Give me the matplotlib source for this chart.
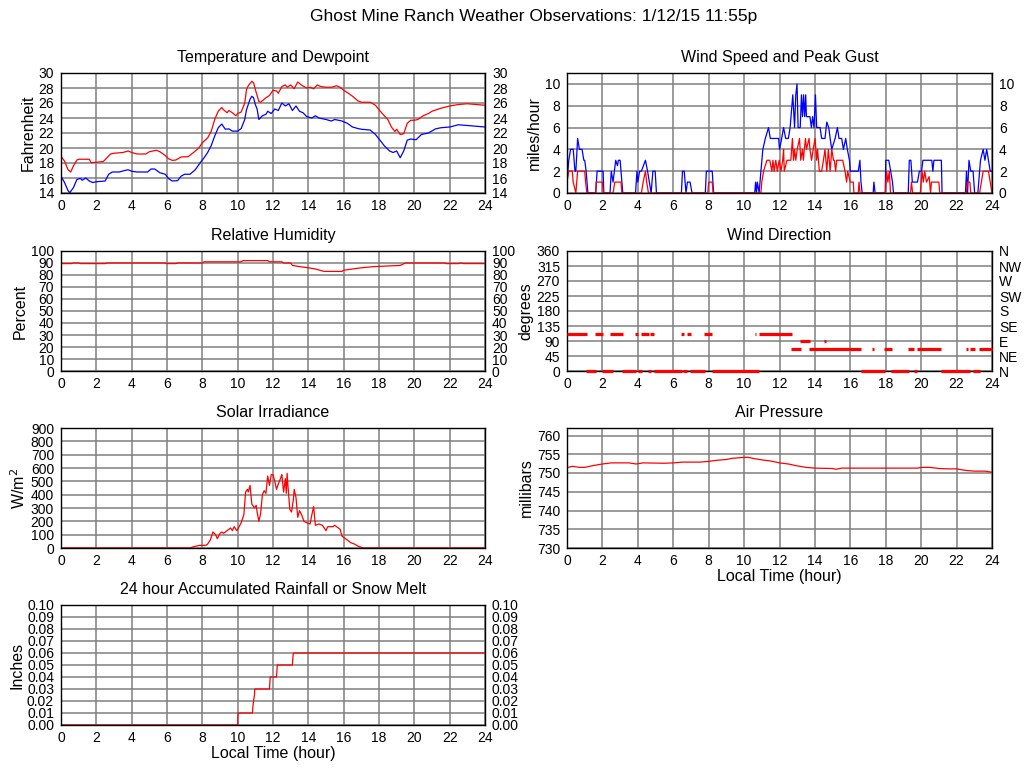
import matplotlib
matplotlib.use("Agg")
import matplotlib.pyplot as plt

plt.rcParams['font.family'] = ['Liberation Sans', 'DejaVu Sans']

# ---------------- data ----------------
temp_t = [0, 0.2, 0.4, 0.55, 0.7, 0.9, 1.0, 1.6, 1.7, 2.0, 2.4, 2.6, 2.8, 3.0, 3.5, 3.8, 4.0, 4.3, 4.8,
          5.0, 5.4, 5.6, 5.9, 6.1, 6.3, 6.5, 6.8, 7.2, 7.5, 7.8, 8.0, 8.3, 8.5, 8.7, 8.9, 9.1, 9.2, 9.4,
          9.5, 9.7, 9.9, 10.0, 10.2, 10.4, 10.5, 10.6, 10.8, 10.9, 11.0, 11.2, 11.3, 11.6, 11.8, 12.0,
          12.2, 12.3, 12.5, 12.7, 12.8, 13.0, 13.2, 13.4, 13.6, 13.9, 14.1, 14.3, 14.5, 14.7, 15.0, 15.3,
          15.6, 15.8, 16.0, 16.2, 16.5, 16.8, 17.0, 17.5, 17.8, 18.0, 18.3, 18.5, 18.7, 18.9, 19.0, 19.2,
          19.4, 19.6, 19.8, 20.0, 20.2, 20.5, 20.8, 21.0, 21.5, 22.0, 22.5, 23.0, 23.5, 24.0]
temp_f = [18.9, 18.25, 17.1, 16.8, 17.6, 18.4, 18.5, 18.5, 18.05, 18.1, 18.2, 18.7, 19.2, 19.3, 19.4,
          19.6, 19.4, 19.2, 19.2, 19.5, 19.7, 19.5, 19.0, 18.55, 18.35, 18.4, 18.8, 18.85, 19.4, 20.0,
          20.7, 21.35, 22.2, 23.8, 24.9, 25.4, 25.1, 24.7, 25.0, 24.7, 24.3, 24.6, 24.8, 26.0, 27.8, 28.3,
          28.9, 28.7, 27.8, 26.2, 26.1, 26.7, 27.0, 27.7, 27.6, 27.3, 28.2, 28.4, 28.1, 28.4, 27.9, 28.8,
          28.4, 28.0, 28.1, 27.9, 28.4, 28.2, 28.1, 28.1, 28.3, 28.1, 27.7, 27.4, 26.9, 26.3, 26.1, 26.1,
          25.7, 25.1, 24.3, 23.8, 22.8, 22.2, 22.5, 21.8, 21.9, 23.3, 23.7, 23.7, 23.8, 24.3, 24.6, 24.9,
          25.3, 25.6, 25.8, 25.9, 25.8, 25.7]

dew_t = [0, 0.2, 0.4, 0.5, 0.7, 0.9, 1.1, 1.2, 1.4, 1.6, 1.8, 2.0, 2.5, 2.7, 2.9, 3.3, 3.6, 3.8, 4.0,
         4.3, 4.9, 5.1, 5.3, 5.6, 5.9, 6.1, 6.3, 6.6, 6.8, 7.0, 7.3, 7.6, 7.9, 8.1, 8.3, 8.5, 8.7, 8.9,
         9.1, 9.3, 9.5, 9.7, 10.0, 10.2, 10.4, 10.5, 10.7, 10.8, 10.9, 11.0, 11.1, 11.2, 11.4, 11.6,
         11.7, 11.9, 12.1, 12.3, 12.5, 12.7, 12.9, 13.1, 13.3, 13.5, 13.7, 13.9, 14.2, 14.4, 14.6, 15.0,
         15.3, 15.5, 15.9, 16.2, 16.5, 16.8, 17.0, 17.5, 17.8, 18.0, 18.3, 18.6, 18.8, 19.0, 19.2, 19.4,
         19.6, 19.8, 20.1, 20.4, 20.8, 21.2, 21.5, 22.0, 22.5, 23.0, 23.5, 24.0]
dew_f = [16.25, 15.4, 14.3, 14.05, 14.7, 15.8, 15.95, 15.7, 16.0, 15.6, 15.4, 15.5, 15.6, 16.5, 16.8,
         16.8, 17.0, 17.1, 16.9, 16.8, 16.8, 17.2, 17.2, 16.7, 16.5, 15.9, 15.6, 15.65, 16.25, 16.5,
         16.5, 17.1, 18.1, 18.7, 19.4, 20.3, 21.6, 22.7, 23.2, 22.5, 22.55, 22.25, 22.25, 22.6, 23.8,
         25.1, 26.5, 26.9, 26.7, 25.8, 25.2, 23.8, 24.3, 24.5, 24.9, 24.6, 25.2, 25.0, 26.0, 25.6, 25.9,
         25.0, 25.6, 24.9, 24.7, 24.2, 24.0, 24.3, 24.0, 23.8, 23.6, 23.8, 23.6, 23.3, 22.8, 22.6, 22.5,
         22.4, 21.8, 21.2, 20.3, 19.6, 19.4, 19.6, 18.7, 19.6, 21.05, 21.2, 21.1, 21.8, 22.0, 22.55,
         22.7, 22.8, 23.1, 23.0, 22.9, 22.8]

# (hour, mph) samples
gust_pts = [(0.0, 1), (0.1, 3), (0.2, 4), (0.35, 4), (0.4, 3), (0.45, 2), (0.5, 2), (0.6, 5), (0.7, 4),
            (0.85, 4), (0.95, 3), (1.0, 3), (1.08, 2), (1.18, 0), (1.62, 0), (1.7, 2), (2.04, 2),
            (2.08, 0), (2.43, 0), (2.5, 2), (2.6, 1), (2.75, 3), (2.85, 2.5), (2.9, 3), (3.0, 3),
            (3.15, 0), (3.87, 0), (3.95, 2), (4.0, 1), (4.1, 2), (4.2, 2), (4.43, 3), (4.55, 2),
            (4.75, 0), (4.85, 2), (4.98, 2), (5.05, 0), (6.46, 0), (6.52, 2), (6.62, 2), (6.72, 0),
            (6.8, 1), (6.95, 1), (7.06, 0), (7.81, 0), (7.87, 2), (8.2, 2), (8.28, 0), (10.6, 0),
            (10.65, 1), (10.7, 0), (10.75, 1), (10.85, 0), (10.95, 2), (11.06, 4), (11.2, 5), (11.38, 6),
            (11.48, 5), (11.95, 5), (12.0, 4), (12.1, 4.8), (12.23, 6), (12.35, 5), (12.5, 5), (12.6, 6),
            (12.7, 8), (12.75, 9), (12.85, 6), (12.92, 9), (12.99, 10), (13.05, 6), (13.17, 6),
            (13.24, 9), (13.3, 7), (13.36, 9), (13.42, 7), (13.48, 9), (13.52, 7), (13.58, 7),
            (13.72, 7), (13.8, 6), (13.87, 7), (13.95, 6), (14.03, 9), (14.1, 6), (14.29, 6), (14.38, 5),
            (14.57, 5), (14.67, 6.5), (14.78, 6), (14.86, 5), (14.95, 4), (15.14, 5), (15.27, 6),
            (15.36, 5), (15.51, 5), (15.61, 4), (15.74, 5), (15.83, 4), (15.95, 3), (16.0, 2),
            (16.17, 2), (16.45, 2), (16.54, 3), (16.6, 1), (16.67, 0), (17.29, 0), (17.33, 1),
            (17.4, 0), (17.97, 0), (18.0, 3), (18.17, 3), (18.28, 2), (18.38, 1), (18.44, 0),
            (19.27, 0), (19.33, 3), (19.42, 3), (19.5, 1), (19.68, 1), (19.79, 1), (19.9, 2),
            (20.02, 2), (20.1, 3), (20.6, 3), (20.66, 2), (20.72, 3), (21.14, 3), (21.18, 0),
            (22.5, 0), (22.56, 2), (22.62, 0), (22.7, 3), (22.8, 2), (22.93, 2), (23.02, 0), (23.2, 0),
            (23.3, 2), (23.35, 3), (23.5, 4), (23.6, 3), (23.7, 4), (23.8, 3), (23.9, 2), (24.0, 2)]
speed_pts = [(0.0, 1), (0.1, 2), (0.3, 2), (0.35, 1), (0.5, 0), (0.6, 2), (1.0, 2), (1.05, 1),
             (1.12, 0), (1.62, 0), (1.65, 1), (2.0, 1), (2.05, 0), (2.6, 0), (2.7, 1), (3.05, 1),
             (3.1, 0), (4.2, 0), (4.3, 1), (4.43, 2), (4.5, 1), (4.6, 0), (7.95, 0), (8.0, 1), (8.2, 1),
             (8.25, 0), (10.95, 0), (11.0, 1), (11.1, 2), (11.29, 3), (11.45, 3), (11.57, 2),
             (11.63, 3), (11.7, 2), (11.79, 3), (11.88, 2), (11.98, 3), (12.08, 2), (12.18, 3),
             (12.23, 4), (12.27, 2), (12.42, 3), (12.64, 3), (12.73, 5), (12.79, 3), (12.85, 4),
             (12.92, 3), (13.0, 4), (13.13, 5), (13.2, 3), (13.29, 4), (13.35, 3), (13.4, 4),
             (13.47, 5), (13.52, 4), (13.67, 5), (13.72, 4), (13.81, 3), (13.9, 4), (14.01, 5),
             (14.1, 3), (14.15, 4), (14.25, 2), (14.38, 2), (14.48, 3), (14.57, 4), (14.67, 2),
             (14.76, 4), (14.86, 2), (14.95, 4), (15.05, 3), (15.1, 3), (15.17, 2), (15.23, 3),
             (15.57, 3), (15.7, 2), (15.79, 1), (15.85, 2), (16.0, 1), (16.17, 1), (16.2, 0),
             (16.45, 0), (16.49, 1), (16.55, 0), (17.98, 0), (18.05, 2), (18.12, 1), (18.2, 2),
             (18.27, 0), (19.4, 0), (19.45, 1), (19.52, 0), (19.95, 0), (20.05, 2), (20.12, 1),
             (20.2, 2), (20.3, 1), (20.45, 1.5), (20.53, 0), (20.58, 1), (21.0, 1), (21.05, 0),
             (22.55, 0), (22.62, 1), (22.75, 1), (22.8, 0), (23.3, 0), (23.4, 1), (23.5, 2), (23.8, 2),
             (23.9, 1), (24.0, 0)]
gust_t = [p[0] for p in gust_pts]
gust_v = [p[1] for p in gust_pts]
speed_t = [p[0] for p in speed_pts]
speed_v = [p[1] for p in speed_pts]

# wind direction: runs of constant direction (start hour, end hour, degrees)
dir_start = [0.0, 1.58, 2.43, 3.84, 4.18, 4.68, 6.43, 6.75, 7.75, 10.6, 10.85,
             13.15, 14.5,
             12.64, 13.67, 17.25, 17.9, 19.26, 19.77, 22.51, 22.74, 23.27,
             1.07, 1.97, 3.1, 4.02, 4.55, 4.91, 6.56, 6.94, 8.2, 16.63, 18.32, 19.58, 21.1, 22.93]
dir_end = [1.11, 2.01, 3.14, 4.02, 4.61, 4.93, 6.62, 6.98, 8.2, 10.7, 12.73,
           13.75, 14.61,
           13.24, 16.63, 17.34, 18.36, 19.6, 21.14, 22.64, 23.06, 24.0,
           1.64, 2.61, 3.89, 4.21, 4.74, 6.47, 6.79, 7.82, 10.85, 17.98, 19.3, 19.79, 22.74, 23.3]
dir_deg = [112.5] * 11 + [90] * 2 + [67.5] * 9 + [0] * 14

hum_t = [0, 0.6, 0.7, 1.0, 1.1, 1.4, 1.5, 2.5, 2.6, 5.9, 5.95, 6.5, 6.6, 8.0, 8.1, 10.2, 10.3, 11.7,
         11.8, 12.5, 12.6, 13.0, 13.1, 13.5, 14.0, 14.4, 14.9, 15.9, 16.0, 16.5, 17.0, 17.7, 18.5, 19.2,
         19.5, 21.7, 21.8, 22.5, 22.6, 22.8, 24.0]
hum_v = [89.5, 89.5, 90, 90, 89.5, 89.5, 89.5, 89.5, 90, 90, 89.5, 89.5, 90, 90, 91, 91, 92, 92, 91, 91,
         90, 90, 88, 87, 86, 85, 83, 83, 84, 85, 86, 87, 87.5, 88, 90, 90, 89.5, 89.5, 90, 89.5, 89.5]

solar_t = [0, 7.3, 7.5, 7.85, 8.2, 8.3, 8.45, 8.6, 8.75, 8.85, 9.0, 9.1, 9.2, 9.4, 9.6, 9.7, 9.8, 9.95,
           10.0, 10.2, 10.35, 10.45, 10.55, 10.6, 10.7, 10.8, 10.95, 11.05, 11.1, 11.2, 11.3, 11.4, 11.5,
           11.6, 11.7, 11.8, 11.9, 12.0, 12.1, 12.2, 12.3, 12.45, 12.5, 12.6, 12.7, 12.75, 12.8, 12.85,
           12.95, 13.05, 13.15, 13.2, 13.3, 13.4, 13.5, 13.65, 13.75, 13.9, 14.1, 14.2, 14.3, 14.4, 14.6,
           14.8, 15.0, 15.1, 15.4, 15.5, 15.8, 15.9, 16.0, 16.2, 16.4, 16.6, 16.8, 17.0, 17.1, 24.0]
solar_w = [0, 0, 10, 20, 20, 30, 60, 120, 100, 70, 110, 120, 110, 130, 150, 130, 160, 130, 140, 190, 250,
           420, 440, 420, 470, 330, 300, 320, 270, 200, 260, 400, 430, 410, 540, 470, 550, 550, 500, 440,
           480, 530, 550, 420, 520, 410, 560, 460, 290, 270, 360, 440, 380, 230, 280, 240, 200, 190, 180,
           250, 310, 170, 180, 170, 130, 160, 160, 170, 140, 90, 80, 60, 40, 30, 15, 5, 0, 0]

pres_t = [0, 0.3, 0.7, 1.0, 1.5, 2.0, 2.5, 3.5, 3.9, 4.3, 5.5, 6.0, 6.5, 7.5, 8.0, 8.5, 9.0, 9.3, 9.8,
          10.2, 10.5, 11.0, 11.5, 12.0, 12.5, 13.0, 13.5, 14.0, 15.0, 15.2, 15.5, 19.8, 20.0, 20.5, 21.0,
          21.5, 22.0, 22.5, 23.0, 23.6, 24.0]
pres_mb = [751.4, 751.8, 751.5, 751.5, 752.0, 752.4, 752.7, 752.7, 752.4, 752.7, 752.6, 752.7, 752.9,
           752.9, 753.1, 753.4, 753.6, 753.9, 754.1, 754.2, 753.9, 753.5, 753.2, 752.7, 752.4, 751.9,
           751.5, 751.3, 751.2, 751.0, 751.3, 751.3, 751.5, 751.5, 751.2, 751.1, 751.1, 750.7, 750.5,
           750.5, 750.2]

rain_t = [0, 10.0, 10.02, 10.84, 10.86, 10.9, 10.95, 10.97, 11.8, 11.82, 11.84, 12.2, 12.22, 12.24,
          13.1, 13.12, 13.15, 24.0]
rain_in = [0, 0, 0.01, 0.01, 0.015, 0.02, 0.025, 0.03, 0.03, 0.035, 0.04, 0.04, 0.045, 0.05,
           0.05, 0.055, 0.06, 0.06]

hours = list(range(0, 25, 2))
compass = ['N', 'NE', 'E', 'SE', 'S', 'SW', 'W', 'NW', 'N']

# ---------------- figure ----------------
fig = plt.figure(figsize=(10.24, 7.68), dpi=100)
W, H = 1024, 768


def make_ax(x0, y0, x1, y1):
    return fig.add_axes([x0 / W, 1 - y1 / H, (x1 - x0) / W, (y1 - y0) / H])


LX0, LX1 = 61, 485
RX0, RX1 = 567, 992
rows = [(73, 193), (251, 371), (428, 548), (605, 725)]

TICK_FS = 10
TITLE_FS = 11.5
RED = '#ff0000'
BLUE = '#0000ff'


def style(ax, title, ylabel, yticks, ylim, right=True, xlabel=None):
    ax.set_xlim(0, 24)
    ax.set_ylim(*ylim)
    ax.set_xticks(hours)
    ax.set_yticks(yticks)
    ax.grid(True, color='#808080', linewidth=1.1)
    ax.set_axisbelow(True)
    ax.tick_params(length=0, labelsize=TICK_FS, pad=4)
    ax.tick_params(axis='y', pad=5, labelright=right)
    for s in ax.spines.values():
        s.set_color('black')
        s.set_linewidth(1.0)
    ax.set_title(title, fontsize=TITLE_FS, pad=8)
    ax.set_ylabel(ylabel, fontsize=TITLE_FS, labelpad=2)
    if xlabel:
        ax.set_xlabel(xlabel, fontsize=TITLE_FS, labelpad=1)


# Temperature
ax = make_ax(LX0, rows[0][0], LX1, rows[0][1])
ax.plot(temp_t, temp_f, color=RED, lw=0.9)
ax.plot(dew_t, dew_f, color=BLUE, lw=0.9)
style(ax, 'Temperature and Dewpoint', 'Fahrenheit', range(14, 31, 2), (14, 30))

# Humidity
ax = make_ax(LX0, rows[1][0], LX1, rows[1][1])
ax.plot(hum_t, hum_v, color=RED, lw=0.9)
style(ax, 'Relative Humidity', 'Percent', range(0, 101, 10), (0, 100))

# Solar
ax = make_ax(LX0, rows[2][0], LX1, rows[2][1])
ax.plot(solar_t, solar_w, color=RED, lw=0.9)
style(ax, 'Solar Irradiance', 'W/m$^2$', range(0, 901, 100), (0, 900), right=False)

# Rain
ax = make_ax(LX0, rows[3][0], LX1, rows[3][1])
ax.plot(rain_t, rain_in, color=RED, lw=0.9)
style(ax, '24 hour Accumulated Rainfall or Snow Melt', 'Inches',
      [i / 100 for i in range(11)], (0, 0.10), xlabel='Local Time (hour)')
ax.set_yticklabels(['%.2f' % (i / 100) for i in range(11)])

# Wind speed
ax = make_ax(RX0, rows[0][0], RX1, rows[0][1])
ax.plot(gust_t, gust_v, color=BLUE, lw=0.9)
ax.plot(speed_t, speed_v, color=RED, lw=0.9)
style(ax, 'Wind Speed and Peak Gust', 'miles/hour', range(0, 11, 2), (0, 11))

# Wind direction
ax = make_ax(RX0, rows[1][0], RX1, rows[1][1])
ax.hlines(dir_deg, dir_start, dir_end, color=RED, lw=2.3, clip_on=False, zorder=3)
style(ax, 'Wind Direction', 'degrees', range(0, 361, 45), (0, 360), right=False)
ax2 = ax.twinx()
ax2.set_ylim(0, 360)
ax2.set_yticks(range(0, 361, 45))
ax2.set_yticklabels(compass)
ax2.tick_params(length=0, labelsize=TICK_FS, pad=5)
for s in ax2.spines.values():
    s.set_visible(False)

# Pressure
ax = make_ax(RX0, rows[2][0], RX1, rows[2][1])
ax.plot(pres_t, pres_mb, color=RED, lw=0.9)
style(ax, 'Air Pressure', 'millibars', range(730, 761, 5), (730, 762), right=False,
      xlabel='Local Time (hour)')

fig.text(534 / W, 1 - 17 / H, 'Ghost Mine Ranch Weather Observations: 1/12/15 11:55p',
         ha='center', va='center', fontsize=12.5)

fig.savefig('out.png', dpi=100, facecolor='white')
